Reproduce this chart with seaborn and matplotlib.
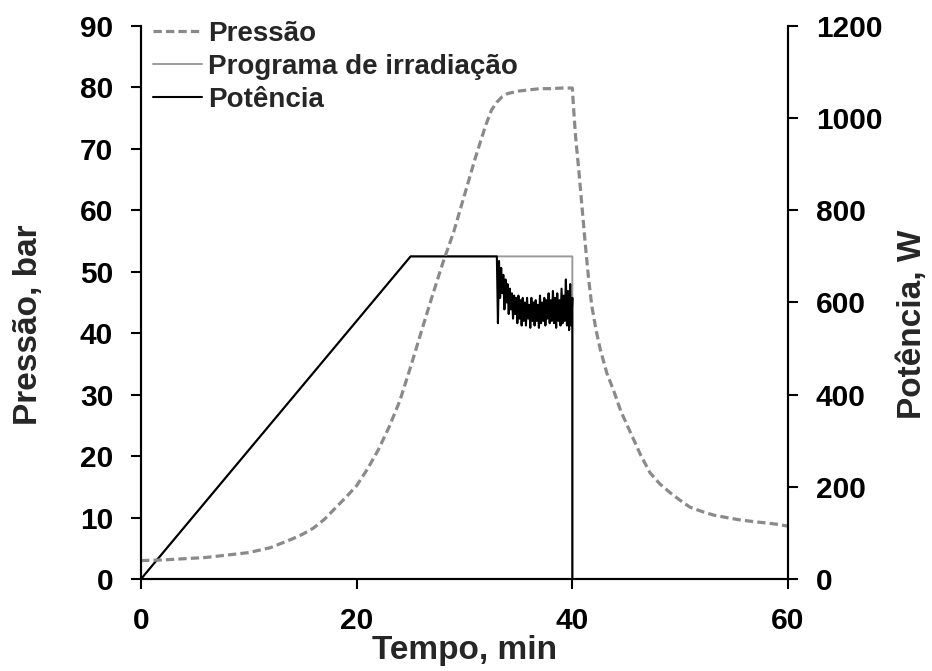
import numpy as np
import pandas as pd
import matplotlib
matplotlib.use("Agg")
import matplotlib.pyplot as plt
import seaborn as sns

# Pressure record (min, bar)
pressure_time = [0, 2, 4, 6, 8, 10, 12, 13, 14, 15, 16, 17, 17.5, 18, 19, 20, 21, 22, 23,
                 24, 25, 26, 27, 28, 29, 30, 31, 31.5, 32, 32.5, 33, 33.5, 34, 35, 36,
                 37, 38, 39, 40, 40.1, 40.3, 40.6, 40.9, 41.2, 41.5, 41.8, 42.2, 42.6,
                 43.2, 43.8, 44.5, 45.4, 46.3, 47.2, 48.1, 49.1, 50, 50.9, 52, 53.1,
                 54.3, 55.6, 57, 58.1, 59, 60]
pressure_bar = [3.0, 3.1, 3.3, 3.5, 3.9, 4.3, 5.1, 5.8, 6.5, 7.3, 8.3, 9.7, 10.6, 11.5,
                13.3, 15.2, 17.9, 21.0, 24.7, 29.0, 34.5, 40.3, 46.0, 51.5, 56.5, 62.5,
                68.5, 71.3, 74.0, 76.3, 77.6, 78.5, 79.0, 79.4, 79.6, 79.8, 79.8, 79.9,
                79.9, 77.0, 72.0, 66.5, 60.5, 54.5, 49.0, 44.5, 40.5, 37.3, 33.5, 30.8,
                27.3, 23.8, 20.3, 17.3, 15.5, 14.0, 12.8, 11.7, 11.0, 10.4, 10.0, 9.6,
                9.3, 9.1, 8.9, 8.6]

# Irradiation programme (min, W)
program_time = [0, 25, 40, 40]
program_w = [0, 700, 700, 0]

# Delivered power (min, W): ramp, plateau, then regulated phase from 33.1 min
power_ramp_time = [0, 25, 33.0]
power_ramp_w = [0, 700, 700]
power_reg_w = [555, 690, 610, 675, 620, 660, 585, 650, 600, 640,
               575, 630, 585, 620, 565, 615, 575, 610, 555, 615,
               565, 605, 550, 610, 560, 600, 550, 610, 565, 595,
               545, 610, 560, 600, 550, 605, 560, 595, 545, 615,
               555, 600, 560, 610, 550, 605, 565, 620, 555, 605,
               560, 625, 555, 610, 545, 620, 560, 605, 550, 630,
               555, 615, 560, 650, 550, 625, 540, 640, 550, 610]
power_end_time = [40.0]
power_end_w = [0]

x_ticks = [0, 20, 40, 60]
left_ticks = list(range(0, 91, 10))
right_ticks = list(range(0, 1201, 200))

sns.set_style("ticks")
plt.rcParams["font.family"] = ["Liberation Sans", "DejaVu Sans"]
plt.rcParams["font.weight"] = "bold"

reg_time = list(np.round(33.1 + 0.1 * np.arange(len(power_reg_w)), 1))
power_time = power_ramp_time + reg_time + power_end_time
power_w = power_ramp_w + power_reg_w + power_end_w

df_p = pd.DataFrame({"t": pressure_time, "p": pressure_bar})
df_prog = pd.DataFrame({"t": program_time, "w": program_w})
df_pow = pd.DataFrame({"t": power_time, "w": power_w})

fig = plt.figure(figsize=(9.32, 6.71), dpi=100)
ax = fig.add_axes([0.1513, 0.1371, 0.6942, 0.8242])
ax2 = ax.twinx()

sns.lineplot(data=df_prog, x="t", y="w", ax=ax2, estimator=None, sort=False,
             color="#9a9a9a", linewidth=1.4, label="Programa de irradiação")
sns.lineplot(data=df_pow, x="t", y="w", ax=ax2, estimator=None, sort=False,
             color="black", linewidth=1.5, label="Potência")
sns.lineplot(data=df_p, x="t", y="p", ax=ax, estimator=None, sort=False,
             color="#8a8a8a", linewidth=2.3, linestyle=(0, (2.6, 1.3)), label="Pressão")

# pressure drawn above the power axis
ax.set_zorder(ax2.get_zorder() + 1)
ax.patch.set_visible(False)

ax.set_xlim(0, 60)
ax.set_ylim(0, 90)
ax2.set_ylim(0, 1200)
ax.set_xticks(x_ticks)
ax.set_yticks(left_ticks)
ax2.set_yticks(right_ticks)

for a in (ax, ax2):
    for s in a.spines.values():
        s.set_linewidth(1.5)
        s.set_color("black")
    a.spines["top"].set_visible(False)
    a.tick_params(direction="out", length=7, width=1.5, labelsize=21.5, pad=13, colors="black")
    for lab in a.get_xticklabels() + a.get_yticklabels():
        lab.set_fontweight("bold")

ax.set_xlabel("Tempo, min", fontsize=24, fontweight="bold", labelpad=0)
ax.set_ylabel("Pressão, bar", fontsize=24, fontweight="bold")
ax2.set_ylabel("Potência, W", fontsize=24, fontweight="bold")
ax.yaxis.set_label_coords(-0.150, 0.46)
ax2.yaxis.set_label_coords(1.168, 0.46)

h1, l1 = ax.get_legend_handles_labels()
h2, l2 = ax2.get_legend_handles_labels()
if ax2.get_legend():
    ax2.get_legend().remove()
leg = ax.legend(h1 + h2, l1 + l2, loc="upper left",
                bbox_to_anchor=(153 / 932, 1 - 21 / 671), bbox_transform=fig.transFigure,
                frameon=False, fontsize=20, handlelength=1.75, handletextpad=0.22,
                labelspacing=0.25, borderpad=0, borderaxespad=0)
for t in leg.get_texts():
    t.set_fontweight("bold")

fig.savefig("out.png", dpi=100)
